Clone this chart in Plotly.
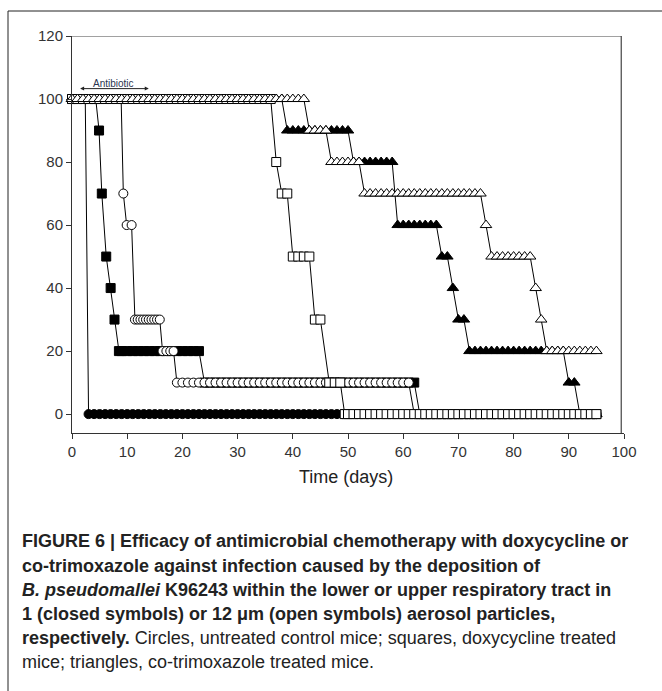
import plotly.graph_objects as go

# ---------------- data (survival %) ----------------
# closed circles: untreated control, 1 um particles
cc_days = [0, 0.5, 1, 1.5, 2, 2.4] + list(range(3, 96))
cc_vals = [100] * 6 + [0] * 93

# closed squares: doxycycline, 1 um
cs_days = [0, 1, 2, 3, 4, 4.3, 4.9, 5.4, 6.2, 7.0, 7.7, 8.5] + list(range(9, 96))
cs_vals = [100] * 6 + [90, 70, 50, 40, 30] + [20] * 16 + [10] * 39 + [0] * 33

# open circles: untreated control, 12 um
oc_days = (list(range(0, 9)) + [8.9, 9.3, 9.9, 10.8]
           + [11.4, 11.9, 12.4, 12.9, 13.4, 13.9, 14.4, 14.9, 15.4, 15.9]
           + [16.4, 17.1, 17.8, 18.4] + list(range(19, 96)))
oc_vals = [100] * 10 + [70, 60, 60] + [30] * 10 + [20] * 4 + [10] * 43 + [0] * 34

# closed triangles: co-trimoxazole, 1 um
ct_days = list(range(0, 96))
ct_vals = ([100] * 39 + [90] * 12 + [80] * 8 + [60] * 8 + [50] * 2 + [40] + [30] * 2
           + [20] * 18 + [10] * 2 + [0] * 4)

# open squares: doxycycline, 12 um
os_days = list(range(0, 46)) + [46.6, 47.6, 48.6, 49.4] + list(range(50, 96))
os_vals = [100] * 37 + [80] + [70] * 2 + [50] * 4 + [30] * 2 + [10] * 3 + [0] * 47

# open triangles: co-trimoxazole, 12 um
ot_days = list(range(0, 96))
ot_vals = ([100] * 43 + [90] * 4 + [80] * 6 + [70] * 22 + [60] + [50] * 8 + [40] + [30]
           + [20] * 10)

x_ticks = list(range(0, 101, 10))
y_ticks = list(range(0, 121, 20))

antibiotic_start, antibiotic_end = 1.2, 13.9

# ---------------- figure ----------------
W, H = 662, 691
L, R, T, B = 72, 624, 36, 433


def px(xp):
    return (xp - L) / (R - L)


def py(yp):
    return (B - yp) / (B - T)


fig = go.Figure()


def add(days, vals, symbol, filled, size):
    fig.add_trace(go.Scatter(
        x=days, y=vals, mode="lines+markers",
        line=dict(color="black", width=1),
        marker=dict(symbol=symbol, size=size,
                    color="black" if filled else "white",
                    line=dict(color="black", width=1)),
        showlegend=False, cliponaxis=False,
    ))


add(cc_days, cc_vals, "circle", True, 9)
add(cs_days, cs_vals, "square", True, 9)
add(oc_days, oc_vals, "circle", False, 9)
add(ct_days, ct_vals, "triangle-up", True, 10)
add(os_days, os_vals, "square", False, 9)
add(ot_days, ot_vals, "triangle-up", False, 10)

tickfont = dict(family="Liberation Sans, Arial, sans-serif", size=15, color="#333")
fig.update_xaxes(range=[0, 100], tickvals=x_ticks, ticks="outside", ticklen=5,
                 tickcolor="#333", showline=True, linecolor="#333", linewidth=1,
                 showgrid=False, zeroline=False, tickfont=tickfont)
fig.update_yaxes(range=[-6.0, 120], tickvals=y_ticks, ticks="outside", ticklen=5,
                 tickcolor="#333", showline=True, linecolor="#333", linewidth=1,
                 showgrid=False, zeroline=False, tickfont=tickfont)

shapes = [
    # top frame line and right frame line
    dict(type="line", xref="x", yref="y", x0=0, x1=99.5, y0=120, y1=120,
         line=dict(color="#444", width=1.2)),
    dict(type="line", xref="x", yref="y", x0=99.5, x1=99.5, y0=120, y1=-6.0,
         line=dict(color="#444", width=1.2)),
    # outer figure border
    dict(type="rect", xref="paper", yref="paper", x0=px(8), x1=px(670),
         y0=py(11), y1=py(720), line=dict(color="#222", width=1), layer="below"),
]

cap_font = "Liberation Sans Narrow, Arial Narrow, Liberation Sans, sans-serif"
cap_lines = [
    "<b>FIGURE 6 | Efficacy of antimicrobial chemotherapy with doxycycline or</b>",
    "<b>co-trimoxazole against infection caused by the deposition of</b>",
    "<b><i>B. pseudomallei</i> K96243 within the lower or upper respiratory tract in</b>",
    "<b>1 (closed symbols) or 12 μm (open symbols) aerosol particles,</b>",
    "<b>respectively.</b> Circles, untreated control mice; squares, doxycycline treated",
    "mice; triangles, co-trimoxazole treated mice.",
]
cap_y = [541, 566, 590, 614, 638, 662]

annotations = [
    dict(text="Time (days)", xref="paper", yref="paper", x=px(346), y=py(477),
         showarrow=False, xanchor="center", yanchor="middle",
         font=dict(family="Liberation Sans, Arial, sans-serif", size=18, color="#222")),
    dict(text="Antibiotic", xref="x", yref="y", x=7.5, y=104.9, showarrow=False,
         xanchor="center", yanchor="middle",
         font=dict(family="Liberation Sans, Arial, sans-serif", size=10, color="#2a3550")),
    dict(text="", xref="x", yref="y", x=antibiotic_end, y=103.3,
         axref="x", ayref="y", ax=antibiotic_start, ay=103.3, showarrow=True,
         arrowhead=2, startarrowhead=2, arrowside="end+start", arrowsize=0.8,
         arrowwidth=1, arrowcolor="#222", startarrowsize=0.8),
]
for t, yy in zip(cap_lines, cap_y):
    annotations.append(dict(text=t, xref="paper", yref="paper", x=px(20), y=py(yy),
                            showarrow=False, xanchor="left", yanchor="middle",
                            align="left",
                            font=dict(family=cap_font, size=18, color="#222")))

fig.update_layout(
    width=W, height=H, autosize=False,
    margin=dict(l=L, r=W - R, t=T, b=H - B, pad=0),
    paper_bgcolor="white", plot_bgcolor="white",
    shapes=shapes, annotations=annotations,
)

fig.write_html("out.html", config={"displayModeBar": False},
               post_script="document.body.style.margin='0';")
